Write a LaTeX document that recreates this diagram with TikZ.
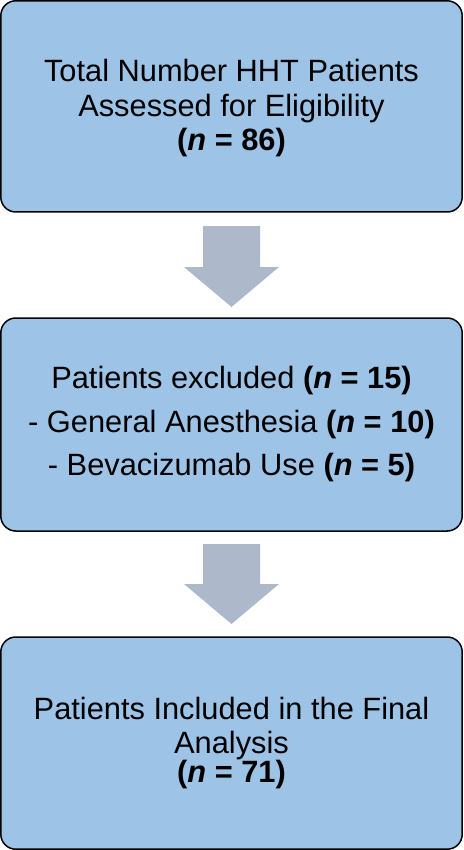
\documentclass[tikz,border=0pt]{standalone}
\usepackage{fontspec}
\setmainfont{Liberation Sans}
\usetikzlibrary{calc}
\definecolor{boxblue}{HTML}{9DC3E6}
\definecolor{arrowgrey}{HTML}{ADB9CA}
\tikzset{
  flowbox/.style={draw=black, line width=1.5pt, fill=boxblue, rounded corners=15pt,
    minimum width=461.4pt, align=center, inner sep=0pt, outer sep=0pt, text=black},
  blockarrow/.style={fill=arrowgrey, draw=none}
}
\begin{document}
\begin{tikzpicture}[x=1pt,y=-1pt]
\useasboundingbox (0,0) rectangle (463,850);
\node[flowbox, minimum height=211.2pt, font=\fontsize{30.8}{34.5}\selectfont] (b1) at (231.5,106.4)
  {\rule{0pt}{26pt}Total Number HHT Patients\\Assessed for Eligibility\\\textbf{(\textit{n} = 86)}};
\node[flowbox, minimum height=213pt, font=\fontsize{30.8}{43.5}\selectfont] (b2) at (231.5,424.5)
  {Patients excluded \textbf{(\textit{n} = 15)}\\- General Anesthesia \textbf{(\textit{n} = 10)}\\- Bevacizumab Use \textbf{(\textit{n} = 5)}};
\node[flowbox, minimum height=212.2pt, font=\fontsize{30.8}{34}\selectfont] (b3) at (231.5,743.1)
  {Patients Included in the Final\\Analysis\\[-5pt]\textbf{(\textit{n} = 71)}};
% block arrows
\fill[blockarrow] ($(b1.south)+(-28.5,14)$) coordinate (a1s) -- ++(57,0) -- ++(0,41) -- ++(19,0)
  -- ($(b2.north)+(0,-11)$) coordinate (a1t) -- ($(a1s)+(-19,41)$) -- ++(19,0) -- cycle;
\fill[blockarrow] ($(b2.south)+(-28.5,13)$) coordinate (a2s) -- ++(57,0) -- ++(0,40) -- ++(19,0)
  -- ($(b3.north)+(0,-13)$) coordinate (a2t) -- ($(a2s)+(-19,40)$) -- ++(19,0) -- cycle;
\end{tikzpicture}
\end{document}
